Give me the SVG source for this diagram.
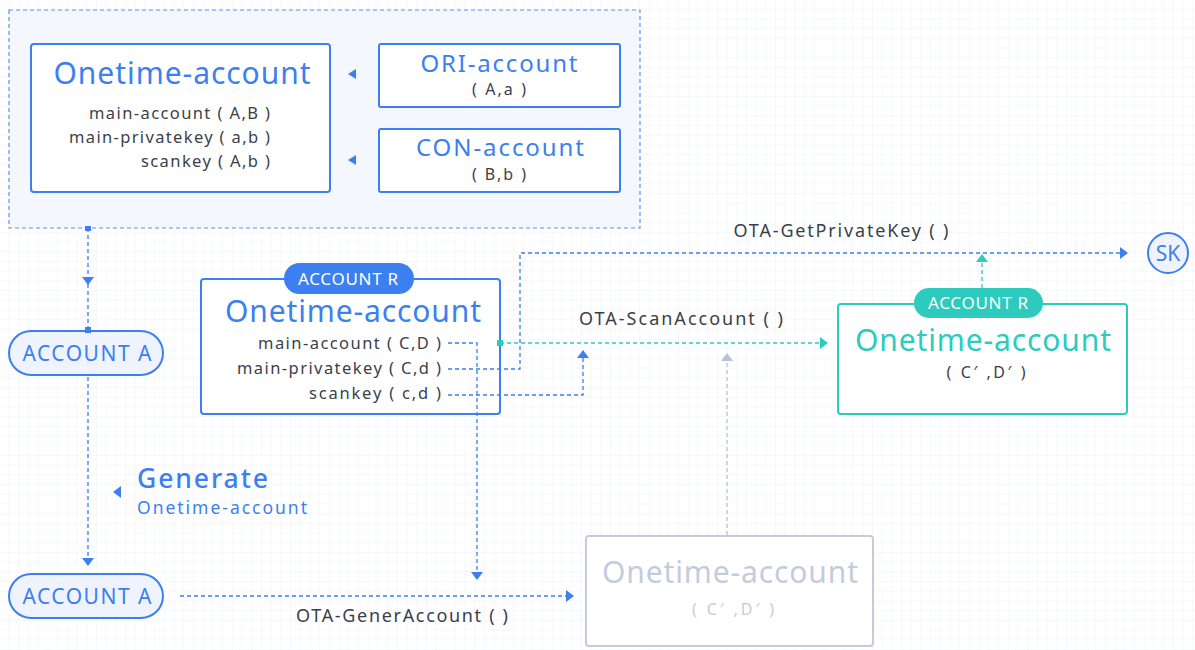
<svg xmlns="http://www.w3.org/2000/svg" width="1195" height="650" viewBox="0 0 1195 650">
<style>
text{font-family:"Noto Sans","Liberation Sans",sans-serif}
.box{fill:#fff;stroke:#3b7ff0;stroke-width:2}
.title{fill:#3b7ff0;font-size:30px;text-anchor:middle}
.sub{fill:#3b7ff0;font-size:24px;text-anchor:middle}
.line{fill:#3a3f4a;font-size:16.5px;text-anchor:end}
.par{fill:#3a3f4a;font-size:16px;text-anchor:middle}
.lbl{fill:#3a3f4a;font-size:18px;text-anchor:middle}
.pill{fill:#eef3fd;stroke:#3b7ff0;stroke-width:2}
.pilltxt{fill:#3b7ff0;font-size:21px;text-anchor:middle}
.badge{font-size:17px;fill:#fff;text-anchor:middle}
.dash{fill:none;stroke:#3b7ff0;stroke-width:1.3;stroke-dasharray:4 3}
.dasht{fill:none;stroke:#2ccbbd;stroke-width:1.3;stroke-dasharray:4 3}
.dashg{fill:none;stroke:#b8c2d4;stroke-width:1.3;stroke-dasharray:4 3}
.ab{fill:#3b7ff0}
.at{fill:#2ccbbd}
.ag{fill:#b8c2d4}
</style>
<defs>
<pattern id="grid" width="9.7" height="9.7" patternUnits="userSpaceOnUse">
<path d="M9.7 0V9.7H0" fill="none" stroke="#eef1f9" stroke-width="1"/>
</pattern>
</defs>
<rect width="1195" height="650" fill="#fff"/>
<rect width="1195" height="650" fill="url(#grid)"/>

<g id="container">
<rect x="9" y="10" width="631" height="218" fill="#f4f7fe" stroke="#5b93f2" stroke-width="1.2" stroke-dasharray="4 3"/>
</g>

<g id="onetime-main">
<rect class="box" x="31" y="44" width="299" height="148" rx="3"/>
<text class="title" x="182" y="84" textLength="257" lengthAdjust="spacing">Onetime-account</text>
<text class="line" x="270" y="119" textLength="181" lengthAdjust="spacing">main-account ( A,B )</text>
<text class="line" x="270" y="143" textLength="201" lengthAdjust="spacing">main-privatekey ( a,b )</text>
<text class="line" x="270" y="167" textLength="129" lengthAdjust="spacing">scankey ( A,b )</text>
</g>

<g id="ori-account">
<rect class="box" x="379" y="44" width="241" height="63" rx="2"/>
<text class="sub" x="499" y="72" textLength="157" lengthAdjust="spacing">ORI-account</text>
<text class="par" x="499" y="95" textLength="54" lengthAdjust="spacing">( A,a )</text>
</g>

<g id="con-account">
<rect class="box" x="379" y="129" width="241" height="63" rx="2"/>
<text class="sub" x="500" y="156" textLength="168" lengthAdjust="spacing">CON-account</text>
<text class="par" x="499" y="180" textLength="54" lengthAdjust="spacing">( B,b )</text>
</g>

<g id="account-a-top">
<rect class="pill" x="9" y="331" width="154" height="44" rx="22"/>
<text class="pilltxt" x="87" y="361" textLength="129" lengthAdjust="spacing">ACCOUNT A</text>
</g>

<g id="account-a-bottom">
<rect class="pill" x="9" y="574" width="154" height="44" rx="22"/>
<text class="pilltxt" x="87" y="604" textLength="129" lengthAdjust="spacing">ACCOUNT A</text>
</g>

<g id="generate-label">
<text x="137" y="488" fill="#3b7ff0" font-size="26.5" font-weight="500" textLength="131" lengthAdjust="spacing">Generate</text>
<text x="137" y="514" fill="#3b7ff0" font-size="17.5" textLength="170" lengthAdjust="spacing">Onetime-account</text>
</g>

<g id="account-r">
<rect class="box" x="201" y="279" width="299" height="135" rx="3"/>
<rect x="284" y="263" width="130" height="31" rx="15.5" fill="#3b7ff0"/>
<text class="badge" x="348" y="285" textLength="100" lengthAdjust="spacing">ACCOUNT R</text>
<text class="title" x="353" y="322" textLength="256" lengthAdjust="spacing">Onetime-account</text>
<text class="line" x="441" y="349" textLength="183" lengthAdjust="spacing">main-account ( C,D )</text>
<text class="line" x="441" y="374" textLength="204" lengthAdjust="spacing">main-privatekey ( C,d )</text>
<text class="line" x="441" y="399" textLength="132" lengthAdjust="spacing">scankey ( c,d )</text>
</g>

<g id="account-r-teal">
<rect x="838" y="304" width="289" height="110" rx="3" fill="#fff" stroke="#2ccbbd" stroke-width="2"/>
<rect x="914" y="288" width="129" height="30" rx="15" fill="#2ccbbd"/>
<text class="badge" x="978" y="309" textLength="100" lengthAdjust="spacing">ACCOUNT R</text>
<text class="title" x="983" y="351" style="fill:#2ccbbd" textLength="256" lengthAdjust="spacing">Onetime-account</text>
<text class="par" x="986" y="378" textLength="79" lengthAdjust="spacing">( C′ ,D′ )</text>
</g>

<g id="onetime-grey">
<rect x="586" y="536" width="287" height="110" rx="3" fill="#fff" stroke="#c3ccdc" stroke-width="2"/>
<text class="title" x="730" y="583" style="fill:#c3ccdc" textLength="256" lengthAdjust="spacing">Onetime-account</text>
<text class="par" x="733" y="615" style="fill:#c3ccdc" textLength="82" lengthAdjust="spacing">( C′ ,D′ )</text>
</g>

<g id="sk">
<circle cx="1168" cy="253" r="20" fill="#eef3fd" stroke="#3b7ff0" stroke-width="2"/>
<text x="1168" y="261" fill="#3b7ff0" font-size="21" text-anchor="middle">SK</text>
</g>

<g id="connectors">
<path class="ab" d="M348 74 l8 -5 v10 z"/>
<path class="ab" d="M348 160 l8 -5 v10 z"/>
<path class="dash" d="M88 228 V331"/>
<rect x="85" y="226" width="6" height="5" class="ab"/>
<rect x="85" y="327" width="6" height="6" class="ab"/>
<path class="ab" d="M82 277 h12 l-6 8 z"/>
<path class="dash" d="M88 377 V560"/>
<path class="ab" d="M82 558 h12 l-6 8 z"/>
<path class="ab" d="M113 492 l8 -6 v12 z"/>
<path class="dash" d="M180 596 H566"/>
<path class="ab" d="M566 590 l8 6 l-8 6 z"/>
<text class="lbl" x="402" y="622" textLength="212" lengthAdjust="spacing">OTA-GenerAccount ( )</text>
<path class="dash" d="M448 343 H477 V572"/>
<path class="ab" d="M471 572 h12 l-6 8 z"/>
<path class="dasht" d="M500 343 H820"/>
<rect x="497" y="340" width="6" height="6" class="at"/>
<path class="at" d="M820 337 l8 6 l-8 6 z"/>
<text class="lbl" x="681" y="325" textLength="204" lengthAdjust="spacing">OTA-ScanAccount ( )</text>
<path class="dash" d="M448 369 H520 V253 H1120"/>
<path class="ab" d="M1120 247 l8 6 l-8 6 z"/>
<text class="lbl" x="841" y="237" textLength="215" lengthAdjust="spacing">OTA-GetPrivateKey ( )</text>
<path class="dash" d="M448 395 H583 V358"/>
<path class="ab" d="M577 358 h12 l-6 -8 z"/>
<path class="dashg" d="M727 535 V361"/>
<path class="ag" d="M721 361 h12 l-6 -8 z"/>
<path class="dasht" d="M982 288 V262"/>
<path class="at" d="M976 262 h12 l-6 -8 z"/>
</g>
</svg>
